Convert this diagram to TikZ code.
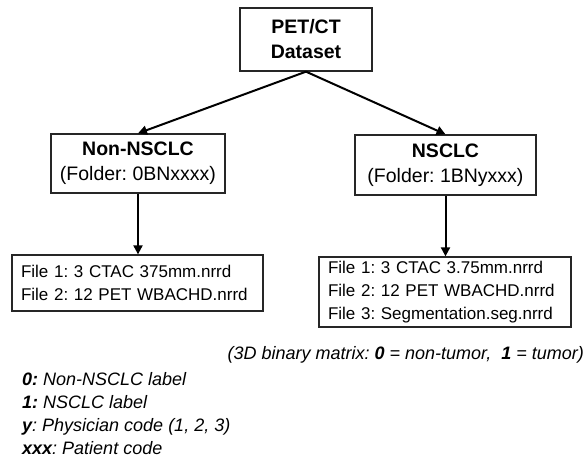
\documentclass[tikz,border=0pt]{standalone}
\usepackage{fontspec}
\setmainfont{Liberation Sans}
\usetikzlibrary{arrows.meta}

\begin{document}
\frenchspacing
\begin{tikzpicture}[x=1pt, y=-1pt, box/.style = {shape=rectangle, draw=black!85, line width=1.3pt, align=center, inner sep=0pt, font=\fontsize{19.5}{25}\selectfont}, filebox/.style = {box, align=left, inner xsep=9pt, font=\fontsize{17}{23}\selectfont}, arr/.style = {line width=2pt, -{Triangle[length=9pt, width=9pt]}}]
    \useasboundingbox (0,0) rectangle (587,463);
    \node[box, minimum width=132pt, minimum height=63pt] (dataset) at (306,39.5) {\textbf{PET/CT}\\\textbf{Dataset}};
    \node[box, minimum width=174pt, minimum height=59pt] (nonnsclc) at (138,163.5) {\textbf{Non-NSCLC}\\(Folder: 0BNxxxx)};
    \node[box, minimum width=181pt, minimum height=60pt] (nsclc) at (445.5,165) {\textbf{NSCLC}\\(Folder: 1BNyxxx)};
    \node[filebox, text width=233pt, minimum height=56pt] (files0) at (137.5,283) {File 1: 3 CTAC 375mm.nrrd\\File 2: 12 PET WBACHD.nrrd};
    \node[filebox, text width=234pt, minimum height=70pt] (files1) at (445,292) {File 1: 3 CTAC 3.75mm.nrrd\\File 2: 12 PET WBACHD.nrrd\\File 3: Segmentation.seg.nrrd};
    \draw[arr] (dataset.south) -- (nonnsclc.north);
    \draw[arr] (dataset.south) -- (nsclc.north);
    \draw[arr] (nonnsclc.south) -- (nonnsclc.south |- files0.north);
    \draw[arr] (nsclc.south) -- (nsclc.south |- files1.north);
    % notes under the boxes
    \node[anchor=east, inner sep=0pt, font=\fontsize{18}{23}\selectfont\itshape] (note) at (584,355) {(3D binary matrix: \textbf{0} = non-tumor, \ \textbf{1} = tumor)};
    \node[anchor=north west, align=left, inner sep=0pt, font=\fontsize{18}{23}\selectfont\itshape] (legend) at (22,372) {\textbf{0:} Non-NSCLC label\\\textbf{1:} NSCLC label\\\textbf{y}: Physician code (1, 2, 3)\\\textbf{xxx}: Patient code};
\end{tikzpicture}
\end{document}
